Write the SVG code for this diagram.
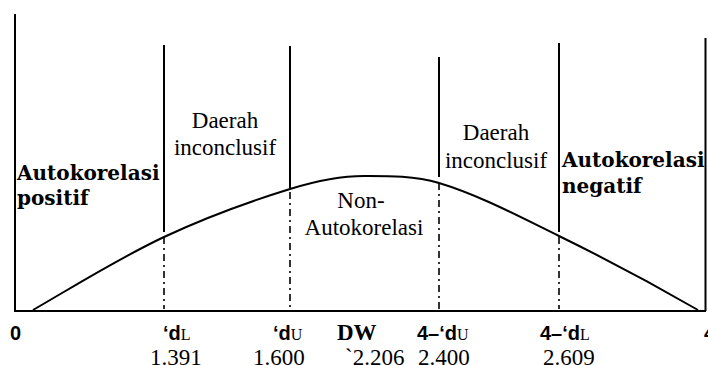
<svg xmlns="http://www.w3.org/2000/svg" width="708" height="365" viewBox="0 0 708 365">
<style>
.ax{stroke:#000;stroke-width:2;fill:none}
.ln{stroke:#000;stroke-width:2;fill:none}
.dd{stroke:#000;stroke-width:1.6;fill:none;stroke-dasharray:7 4 2 4}
.bs{font-family:"DejaVu Serif","Liberation Serif",serif;font-weight:bold;font-size:20px;fill:#000}
.rs{font-family:"Liberation Serif","Times New Roman",serif;font-size:23px;fill:#000}
.bx{font-family:"Liberation Sans",Arial,sans-serif;font-weight:bold;font-size:20px;fill:#000}
.sb{font-family:"Liberation Serif",serif;font-weight:normal;font-size:16px}
.dw{font-family:"Liberation Serif",serif;font-weight:bold;font-size:23px;fill:#000}
</style>
<g id="axes">
<line class="ax" x1="15" y1="14" x2="15" y2="311"/>
<line class="ax" x1="14" y1="311" x2="706" y2="311"/>
<line class="ax" x1="705.5" y1="38" x2="705.5" y2="311"/>
</g>
<g id="curve">
<path class="ln" d="M33,310 C76.7,284.7 120.3,257.5 164,237 C206,217.3 248,202 290,189 C314,181.6 342,176 364,176 C386,176 413,175.5 439,183 C479,195 519,216.4 559,236 C606,259 653,284 698,310"/>
</g>
<g id="boundaries">
<line class="ln" x1="164" y1="45" x2="164" y2="232"/>
<line class="dd" x1="164" y1="237" x2="164" y2="309"/>
<line class="ln" x1="290" y1="46" x2="290" y2="188"/>
<line class="dd" x1="290" y1="192" x2="290" y2="309"/>
<line class="ln" x1="439" y1="57" x2="439" y2="177"/>
<line class="dd" x1="439" y1="183" x2="439" y2="309"/>
<line class="ln" x1="559" y1="43" x2="559" y2="232"/>
<line class="dd" x1="559" y1="237" x2="559" y2="309"/>
</g>
<g id="region-positif">
<text class="bs" x="17" y="180">Autokorelasi</text>
<text class="bs" x="17" y="205">positif</text>
</g>
<g id="region-inconclusif-1">
<text class="rs" x="225" y="128" text-anchor="middle">Daerah</text>
<text class="rs" x="225" y="155" text-anchor="middle">inconclusif</text>
</g>
<g id="region-non">
<text class="rs" x="361" y="208" text-anchor="middle">Non-</text>
<text class="rs" x="364" y="235" text-anchor="middle">Autokorelasi</text>
</g>
<g id="region-inconclusif-2">
<text class="rs" x="496" y="140" text-anchor="middle">Daerah</text>
<text class="rs" x="496" y="168" text-anchor="middle">inconclusif</text>
</g>
<g id="region-negatif">
<text class="bs" x="562" y="167">Autokorelasi</text>
<text class="bs" x="562" y="193">negatif</text>
</g>
<g id="axis-labels">
<text class="bx" x="10" y="340">0</text>
<text class="bx" x="163" y="340">‘d<tspan class="sb">L</tspan></text>
<text class="rs" x="150" y="365">1.391</text>
<text class="bx" x="273" y="340">‘d<tspan class="sb">U</tspan></text>
<text class="rs" x="253" y="365">1.600</text>
<text class="dw" x="337" y="340">DW</text>
<text class="rs" x="345" y="365">`2.206</text>
<text class="bx" x="417" y="340">4–‘d<tspan class="sb">U</tspan></text>
<text class="rs" x="418" y="365">2.400</text>
<text class="bx" x="540" y="340">4–‘d<tspan class="sb">L</tspan></text>
<text class="rs" x="543" y="365">2.609</text>
<text class="bx" x="704" y="340">4</text>
</g>
</svg>
